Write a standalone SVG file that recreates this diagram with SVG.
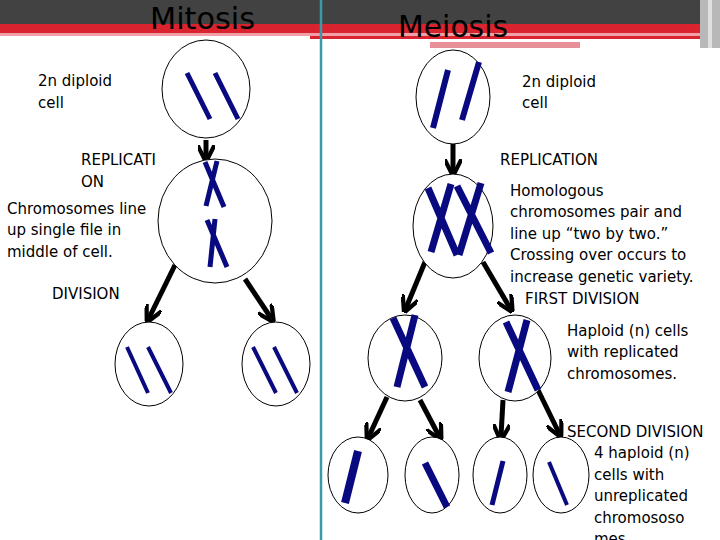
<svg xmlns="http://www.w3.org/2000/svg" width="720" height="540" viewBox="0 0 720 540">
<style>
.cell{fill:#fff;stroke:#000;stroke-width:1}
.ch{stroke:#0a0a80;stroke-linecap:butt;fill:none}
.ar{stroke:#000;stroke-width:5;fill:none;marker-end:url(#ah)}
text{font-family:"DejaVu Sans","Liberation Sans",sans-serif;font-size:15px;fill:#000}
.t{font-size:30px;font-family:"DejaVu Sans Condensed","DejaVu Sans",sans-serif}
</style>
<defs><marker id="ah" viewBox="0 0 10 10" refX="7" refY="5" markerWidth="3.4" markerHeight="3.4" orient="auto" markerUnits="strokeWidth"><path d="M0,0 L10,5 L0,10" fill="none" stroke="#000" stroke-width="2.5"/></marker></defs>
<rect width="720" height="540" fill="#fff"/>
<g id="header">
<rect x="0" y="0" width="720" height="24" fill="#424242"/>
<rect x="0" y="24" width="720" height="9" fill="#d9232e"/>
<rect x="0" y="33" width="720" height="3" fill="#f0a0a6"/>
<rect x="310" y="36" width="395" height="3" fill="#d9232e"/>
<rect x="430" y="39" width="275" height="3" fill="#fff"/>
<rect x="430" y="42" width="150" height="6" fill="#e8909a"/>
<rect x="700" y="0" width="20" height="48" fill="#b8b8b8"/>
<rect x="708" y="0" width="4" height="48" fill="#e0e0e0"/>
</g>
<line x1="321" y1="0" x2="321" y2="540" stroke="#3a9aaa" stroke-width="2.5"/>
<text class="t" x="150" y="29" textLength="105" lengthAdjust="spacingAndGlyphs">Mitosis</text>
<text class="t" x="398" y="37" textLength="110" lengthAdjust="spacingAndGlyphs">Meiosis</text>
<g id="connectors">
<line class="ar" x1="206" y1="140" x2="206" y2="157"/>
<line class="ar" x1="175" y1="265" x2="149" y2="318"/>
<line class="ar" x1="245" y1="279" x2="271" y2="318"/>
<line class="ar" x1="453" y1="144" x2="453" y2="171"/>
<line class="ar" x1="425" y1="262" x2="406" y2="308"/>
<line class="ar" x1="483" y1="262" x2="510" y2="308"/>
<line class="ar" x1="387" y1="397" x2="369" y2="436"/>
<line class="ar" x1="420" y1="400" x2="439" y2="436"/>
<line class="ar" x1="503" y1="400" x2="501" y2="436"/>
<line class="ar" x1="538" y1="390" x2="559" y2="433"/>
</g>
<g id="mit-top"><ellipse class="cell" cx="206" cy="89" rx="44" ry="49"/>
<path class="ch" stroke-width="5" d="M187,73L210,119M215,73L238,119"/></g>
<g id="mit-mid"><ellipse class="cell" cx="215" cy="221" rx="57" ry="62"/>
<path class="ch" stroke-width="5" d="M205,162L224,207M217,161L206,206M207,220L227,267M215,219L210,267"/></g>
<g id="mit-b1"><ellipse class="cell" cx="149" cy="364" rx="34" ry="42"/>
<path class="ch" stroke-width="4" d="M127,347L148,393M148,347L171,393"/></g>
<g id="mit-b2"><ellipse class="cell" cx="276" cy="364" rx="34" ry="42"/>
<path class="ch" stroke-width="4" d="M253,347L276,393M274,347L297,393"/></g>
<g id="mei-top"><ellipse class="cell" cx="453" cy="97" rx="37" ry="47"/>
<path class="ch" stroke-width="6" d="M433,128L448,70M462,120L479,62"/></g>
<g id="mei-mid"><ellipse class="cell" cx="453" cy="226" rx="40" ry="52"/>
<path class="ch" stroke-width="7" d="M428,188L457,255M451,184L431,252M457,186L491,253M481,183L459,255"/></g>
<g id="mei-h1"><ellipse class="cell" cx="405" cy="358" rx="37" ry="43"/>
<path class="ch" stroke-width="7" d="M393,318L425,387M415,315L397,387"/></g>
<g id="mei-h2"><ellipse class="cell" cx="515" cy="358" rx="36" ry="43"/>
<path class="ch" stroke-width="7" d="M506,322L538,390M527,320L508,392"/></g>
<g id="mei-b1"><ellipse class="cell" cx="358" cy="475" rx="30" ry="38"/>
<path class="ch" stroke-width="8" d="M358,451L345,503"/></g>
<g id="mei-b2"><ellipse class="cell" cx="432" cy="475" rx="27" ry="38"/>
<path class="ch" stroke-width="7" d="M425,463L447,507"/></g>
<g id="mei-b3"><ellipse class="cell" cx="500" cy="475" rx="27" ry="38"/>
<path class="ch" stroke-width="5" d="M503,461L492,505"/></g>
<g id="mei-b4"><ellipse class="cell" cx="561" cy="475" rx="28" ry="38"/>
<path class="ch" stroke-width="4" d="M549,462L567,505"/></g>
<g id="labels">
<text x="38" y="86">2n diploid</text><text x="38" y="108">cell</text>
<text x="81" y="165">REPLICATI</text><text x="81" y="187">ON</text>
<text x="7" y="214">Chromosomes line</text><text x="7" y="235">up single file in</text><text x="7" y="257">middle of cell.</text>
<text x="52" y="299">DIVISION</text>
<text x="522" y="87">2n diploid</text><text x="522" y="108">cell</text>
<text x="500" y="165">REPLICATION</text>
<text x="510" y="196">Homologous</text><text x="510" y="217">chromosomes pair and</text><text x="510" y="239">line up “two by two.”</text><text x="510" y="260">Crossing over occurs to</text><text x="510" y="282">increase genetic variety.</text>
<text x="525" y="304">FIRST DIVISION</text>
<text x="567" y="336">Haploid (n) cells</text><text x="567" y="357">with replicated</text><text x="567" y="379">chromosomes.</text>
<text x="567" y="437">SECOND DIVISION</text><text x="594" y="458">4 haploid (n)</text><text x="594" y="480">cells with</text><text x="594" y="501">unreplicated</text><text x="594" y="523">chromososo</text><text x="594" y="544">mes</text>
</g>
</svg>
